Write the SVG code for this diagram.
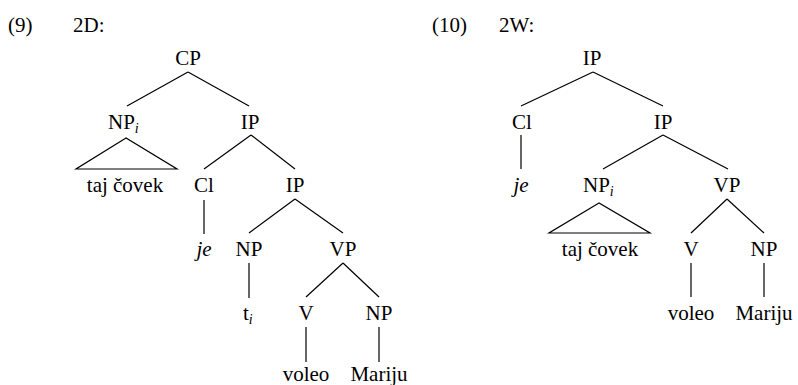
<svg xmlns="http://www.w3.org/2000/svg" width="798" height="385" viewBox="0 0 798 385" font-family="Liberation Serif">
<style>
.t{font-family:"Liberation Serif",serif !important;font-size:21px}
.m{text-anchor:middle}
.it{font-style:italic}
.sub{font-style:italic;font-size:14px}
.e line,.e polygon{stroke:#000;stroke-width:1.2;fill:none}
</style>
<rect width="798" height="385" fill="#fff"/>
<g id="labels">
<text class="t" x="8" y="32">(9)</text><text class="t" x="73" y="32">2D:</text>
<text class="t" x="432" y="32">(10)</text><text class="t" x="499" y="32">2W:</text>
</g>
<g class="e" id="edges">
<line x1="188" y1="72" x2="127" y2="106"/>
<line x1="188" y1="72" x2="249" y2="106"/>
<polygon points="126,138 76,169 177,169"/>
<line x1="251" y1="135" x2="204" y2="169"/>
<line x1="251" y1="135" x2="295" y2="169"/>
<line x1="204" y1="200" x2="204" y2="234"/>
<line x1="295" y1="199" x2="249" y2="233"/>
<line x1="295" y1="199" x2="343" y2="233"/>
<line x1="249" y1="263" x2="249" y2="298"/>
<line x1="343" y1="263" x2="306" y2="297"/>
<line x1="343" y1="263" x2="379" y2="297"/>
<line x1="306" y1="327" x2="306" y2="362"/>
<line x1="379" y1="327" x2="379" y2="362"/>
<line x1="593" y1="72" x2="521" y2="106"/>
<line x1="593" y1="72" x2="663" y2="106"/>
<line x1="521" y1="135" x2="521" y2="169"/>
<line x1="663" y1="135" x2="603" y2="169"/>
<line x1="663" y1="135" x2="728" y2="169"/>
<polygon points="599,203 549,233 650,233"/>
<line x1="727" y1="199" x2="691" y2="233"/>
<line x1="727" y1="199" x2="764" y2="233"/>
<line x1="691" y1="263" x2="691" y2="297"/>
<line x1="764" y1="263" x2="764" y2="297"/>
</g>
<g id="t1-cp"><text class="t m" x="188" y="65">CP</text></g>
<g id="t1-npi"><text class="t" x="108" y="129">NP<tspan class="sub" dy="4">i</tspan></text></g>
<g id="t1-ip1"><text class="t m" x="250" y="129">IP</text></g>
<g id="t1-taj"><text class="t m" x="125" y="192">taj čovek</text></g>
<g id="t1-cl"><text class="t m" x="204" y="192">Cl</text></g>
<g id="t1-ip2"><text class="t m" x="295" y="192">IP</text></g>
<g id="t1-je"><text class="t m it" x="204" y="256">je</text></g>
<g id="t1-np"><text class="t m" x="249" y="256">NP</text></g>
<g id="t1-vp"><text class="t m" x="343" y="256">VP</text></g>
<g id="t1-ti"><text class="t" x="243" y="320">t<tspan class="sub" dy="4">i</tspan></text></g>
<g id="t1-v"><text class="t m" x="306" y="320">V</text></g>
<g id="t1-np2"><text class="t m" x="379" y="320">NP</text></g>
<g id="t1-voleo"><text class="t m" x="306" y="381">voleo</text></g>
<g id="t1-mariju"><text class="t m" x="379" y="381">Mariju</text></g>
<g id="t2-ip"><text class="t m" x="592" y="65">IP</text></g>
<g id="t2-cl"><text class="t m" x="522" y="129">Cl</text></g>
<g id="t2-ip1"><text class="t m" x="663" y="129">IP</text></g>
<g id="t2-je"><text class="t m it" x="521" y="192">je</text></g>
<g id="t2-npi"><text class="t" x="583" y="192">NP<tspan class="sub" dy="4">i</tspan></text></g>
<g id="t2-vp"><text class="t m" x="727" y="192">VP</text></g>
<g id="t2-taj"><text class="t m" x="600" y="256">taj čovek</text></g>
<g id="t2-v"><text class="t m" x="691" y="256">V</text></g>
<g id="t2-np"><text class="t m" x="764" y="256">NP</text></g>
<g id="t2-voleo"><text class="t m" x="691" y="320">voleo</text></g>
<g id="t2-mariju"><text class="t m" x="764" y="320">Mariju</text></g>
</svg>
